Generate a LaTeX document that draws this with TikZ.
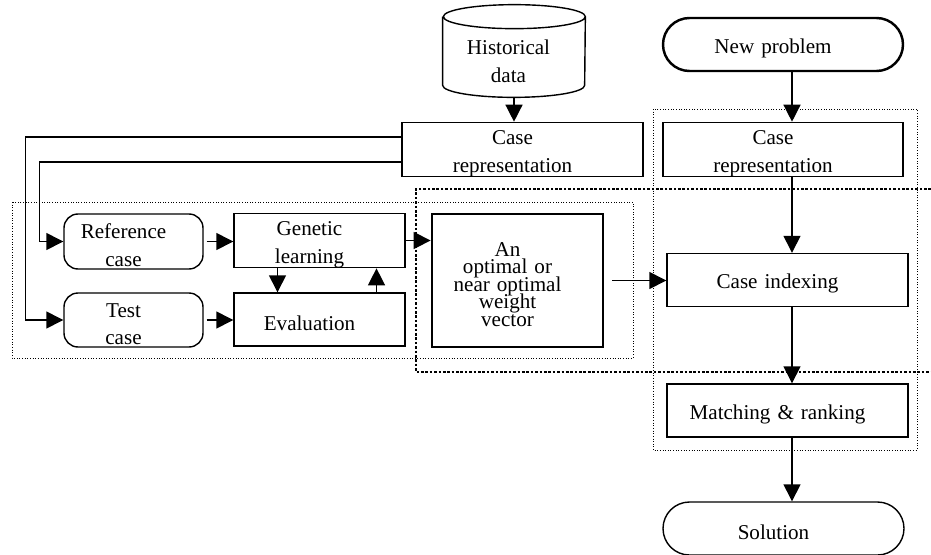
\documentclass[tikz,border=0pt]{standalone}
\usepackage{fontspec}
\setmainfont{Liberation Serif}
\usetikzlibrary{arrows.meta}

\begin{document}
\begin{tikzpicture}[
    font=\fontsize{12}{15.8}\selectfont,
    stage/.style={draw, line width=0.8pt, inner sep=0pt, minimum height=1.06cm, text width=#1, align=center,
        execute at begin node={\leftskip=0pt plus 1fil\rightskip=4mm plus 1fil\parfillskip=0pt\rule{0pt}{12.5pt}}},
    stage/.default=4.82cm,
    term/.style={stage=4.8cm, rounded corners=5.3mm, line width=1.4pt},
    case/.style={stage=2.78cm, rounded corners=2.8mm},
    cyl/.style={minimum width=2.84cm, minimum height=1.84cm, inner sep=0pt},
    grp/.style={line width=0.5pt, densely dotted},
    bigGrp/.style={line width=1.1pt, dash pattern=on 1.5pt off 1pt},
    arrow/.style={-{Triangle[length=3.4mm, width=3.4mm]}, line width=0.8pt}
]
\useasboundingbox (0,0) rectangle (18.62,-11.08);

% groups
\draw[grp] (0.24,-4.04) rectangle (12.66,-7.16);
\draw[grp] (13.06,-2.18) rectangle (18.34,-9.0);
\draw[bigGrp] (18.62,-3.78) -| (8.32,-7.44) -- (18.62,-7.44);

% data store
\node[cyl, label={[align=center, xshift=-1.1mm, yshift=-2.1mm]center:Historical\\data}] (hd) at (10.28,-1.02) {};
\draw[line width=0.8pt] ([yshift=-2.4mm]hd.north west) -- ([yshift=2.4mm]hd.south west)
    arc[start angle=180, end angle=360, x radius=14.2mm, y radius=2.4mm]
    -- ([yshift=-2.4mm]hd.north east)
    arc[start angle=0, end angle=180, x radius=14.2mm, y radius=2.4mm]
    arc[start angle=180, end angle=360, x radius=14.2mm, y radius=2.4mm];

\node[stage] (crl) at (10.45,-2.99) {Case\\representation};
\node[term] (np) at (15.66,-0.89) {New problem};
\node[stage=4.8cm] (crr) at (15.66,-2.99) {Case\\representation};
\node[stage] (ci) at (15.75,-5.6) {Case indexing};
\node[stage] (mr) at (15.75,-8.21) {Matching \& ranking};
\node[term, stage=4.82cm] (sol) at (15.67,-10.57) {Solution};

\node[case, minimum height=1.1cm] (rc) at (2.67,-4.83) {Reference\\case};
\node[case, minimum height=1.08cm] (tc) at (2.67,-6.4) {Test\\case};
\node[stage=3.42cm] (gl) at (6.39,-4.81) {Genetic\\learning};
\node[stage=3.42cm] (ev) at (6.39,-6.39) {Evaluation};
\node[stage=3.42cm, minimum height=2.66cm, line width=1.6pt,
    font={\fontsize{12}{10}\selectfont\lineskiplimit=-10pt}] (ow) at (10.35,-5.61)
    {An\\optimal or\\near optimal\\weight\\vector};

\coordinate (col) at (15.84,0);

\draw[arrow] (hd.south) -- (hd.south |- crl.north);
\draw[arrow] ([yshift=2.5mm]crl.west) -| ([xshift=-7.6mm]tc.west) -- (tc.west);
\draw[arrow] ([yshift=-2.5mm]crl.west) -| ([xshift=-4.8mm]rc.west) -- (rc.west);
\draw[arrow] ([xshift=0.6mm]rc.east) -- (rc.east -| gl.west);
\draw[arrow] ([xshift=0.6mm]tc.east) -- (tc.east -| ev.west);
\draw[arrow] ([xshift=-8.4mm]gl.south) -- ([xshift=-8.4mm]ev.north);
\draw[arrow] ([xshift=11.4mm]ev.north) -- ([xshift=11.4mm]gl.south);
\draw[arrow] (gl.east) -- (gl.east -| ow.west);
\draw[arrow] ([xshift=1.6mm]ow.east) -- (ow.east -| ci.west);

\draw[arrow] (np.south -| col) -- (crr.north -| col);
\draw[arrow] (crr.south -| col) -- (ci.north -| col);
\draw[arrow] (ci.south -| col) -- (mr.north -| col);
\draw[arrow] (mr.south -| col) -- (sol.north -| col);
\end{tikzpicture}
\end{document}
